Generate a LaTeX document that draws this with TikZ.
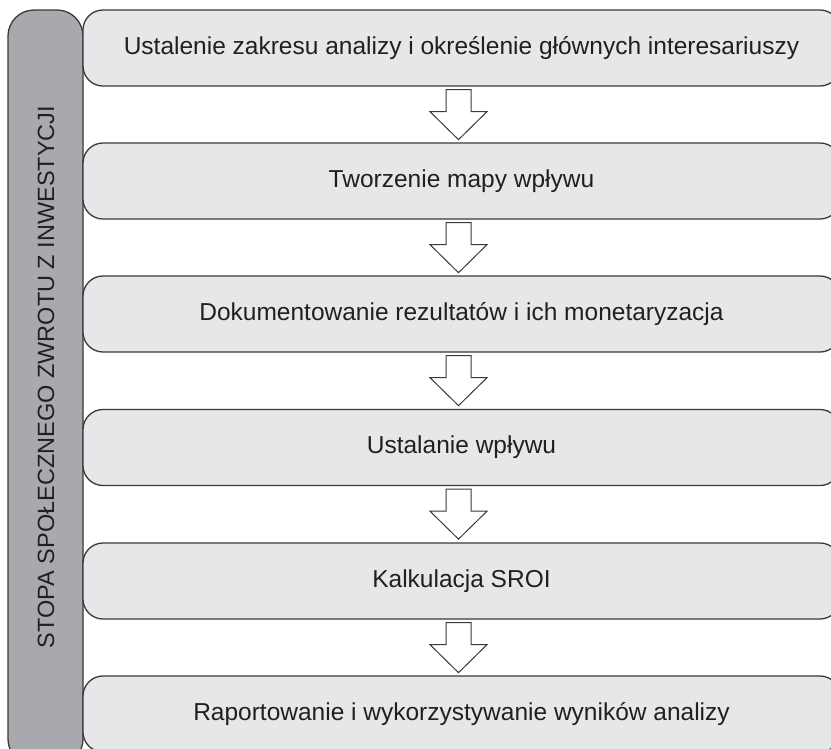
\documentclass[tikz,border=0pt]{standalone}
\usepackage{fontspec}
\setmainfont{Liberation Sans}
\usepackage{tikz}
\usetikzlibrary{calc}
\definecolor{boxfill}{HTML}{E6E7E8}
\definecolor{barfill}{HTML}{A7A9AC}
\definecolor{edgecol}{HTML}{3A3A3C}
\definecolor{txtcol}{HTML}{231F20}

\begin{document}
\begin{tikzpicture}[x=1pt, y=-1pt, line width=1.3pt]
        \tikzstyle{every node}=[font=\fontsize{24.5}{29}\selectfont, text=txtcol]
        \tikzstyle{stage}=[draw=edgecol, fill=boxfill, rounded corners=20pt, minimum width=757pt, minimum height=76pt, inner sep=0pt]
        \tikzstyle{flowarrow}=[draw=edgecol, fill=white, line width=1pt]
        \useasboundingbox (0,0) rectangle (831,748);
        \clip (0,0) rectangle (831,748);
        % side bar
        \draw[draw=edgecol, fill=barfill, rounded corners=26pt] (8,10) rectangle (83,765);
        \node[rotate=90, font=\fontsize{23.5}{28}\selectfont] (side) at (46,377) {STOPA SPOŁECZNEGO ZWROTU Z INWESTYCJI};
        % stages
        \node [stage] (b1) at (461.5,48) {Ustalenie zakresu analizy i określenie głównych interesariuszy};
        \node [stage] (b2) at (461.5,181) {Tworzenie mapy wpływu};
        \node [stage] (b3) at (461.5,314) {Dokumentowanie rezultatów i ich monetaryzacja};
        \node [stage] (b4) at (461.5,447.5) {Ustalanie wpływu};
        \node [stage] (b5) at (461.5,581) {Kalkulacja SROI};
        \node [stage] (b6) at (461.5,714) {Raportowanie i wykorzystywanie wyników analizy};
        % arrows
        \foreach \i/\j in {1/2, 2/3, 3/4, 4/5, 5/6}
          \draw[flowarrow] ($(b\i.south)+(-15.5,3)$) -- ++(25,0) -- ++(0,22) -- ++(16,0)
            -- ++(-28.5,28) -- ++(-28.5,-28) -- ++(16,0) -- cycle;
      \end{tikzpicture}
\end{document}
